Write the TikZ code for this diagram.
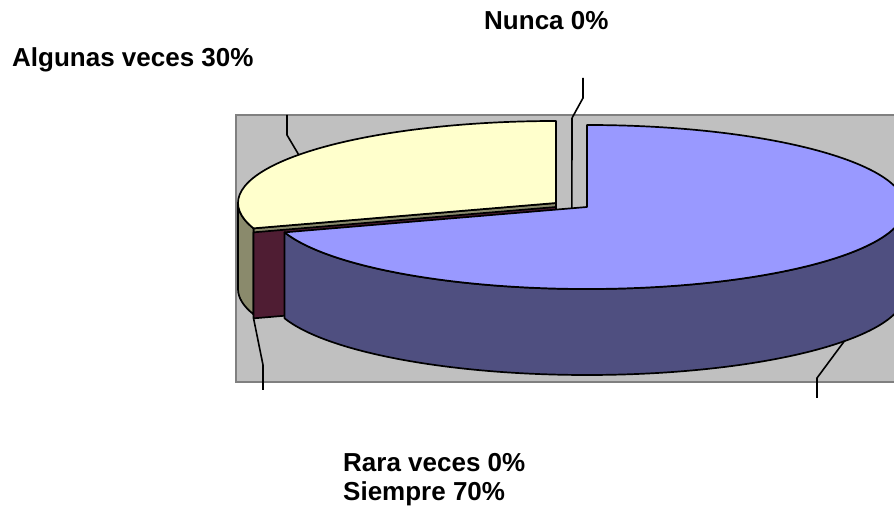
\documentclass[tikz,border=0pt]{standalone}
\usepackage{fontspec}
\setmainfont{Liberation Sans}
\usetikzlibrary{calc}
\tikzset{
	slice/.style={draw=black, line width=1.7pt, line join=round},
	leader/.style={draw=black, line width=1.6pt},
	pct/.style={font=\fontsize{26}{30}\selectfont\bfseries, inner sep=0pt, anchor=base west},
	plotarea/.style={fill=plotgray, draw=plotedge, line width=2pt},
}
\definecolor{plotgray}{HTML}{C0C0C0}
\definecolor{plotedge}{HTML}{808080}
\definecolor{siempre}{HTML}{9999FF}
\definecolor{siempreside}{HTML}{4F4F80}
\definecolor{algunas}{HTML}{FFFFCC}
\definecolor{algunasside}{HTML}{8A8A6C}
\definecolor{rara}{HTML}{4F1D33}

\begin{document}
\begin{tikzpicture}[x=1pt, y=1pt]
        \useasboundingbox (0,0) rectangle (894,514);
        \clip (0,0) rectangle (894,514);
        \path[plotarea] (236,132) rectangle (910,399);
        % centres and rims of the slices
        \coordinate (blue) at (587,307);
        \coordinate (yel) at (556,311);
        \coordinate (rr) at (556,307);
        \coordinate (blue rim) at ($(blue)+(198:318 and 82)$);
        \coordinate (yel rim) at ($(yel)+(198:318 and 82)$);
        \coordinate (rr rim) at ($(rr)+(198:318 and 82)$);
        \coordinate (nunca top) at (572,396);
        % Algunas veces
        \path[slice, fill=algunasside] (yel) -- (yel rim) -- ++(0,-86) -- ($(yel)+(0,-86)$) -- cycle;
        \path[slice, fill=algunasside] ($(yel)+(180:318 and 82)$)
            arc[start angle=180, end angle=198, x radius=318, y radius=82] -- ++(0,-86)
            arc[start angle=198, end angle=180, x radius=318, y radius=82] -- cycle;
        % Rara veces
        \path[slice, fill=rara] (rr) -- (rr rim) -- ++(0,-86) coordinate (rr low) -- ($(rr)+(0,-86)$) -- cycle;
        \path[slice, fill=algunas] (yel) -- ++(0,82) coordinate (yel top)
            arc[start angle=90, end angle=198, x radius=318, y radius=82] -- cycle;
        % Nunca
        \draw[leader] (nunca top) -- ($(blue)!0.05!(blue rim)$);
        % Siempre
        \path[slice, fill=siempreside] (blue rim)
            arc[start angle=198, end angle=360, x radius=318, y radius=82] -- ++(0,-86)
            arc[start angle=360, end angle=198, x radius=318, y radius=82] -- cycle;
        \path[slice, fill=siempre] (blue) -- ++(0,82)
            arc[start angle=90, end angle=-162, x radius=318, y radius=82] -- cycle;
        % leaders
        \coordinate (alg foot) at ($(yel)+(144:318 and 82)$);
        \coordinate (sie foot) at ($(blue)+(324:318 and 82)+(0,-86)$);
        \draw[leader] (alg foot) -- (287,379) -- (287,399);
        \draw[leader] (nunca top) -- (583,416) -- (583,436);
        \draw[leader] (rr low) -- (263,149) -- (263,124);
        \draw[leader] (sie foot) -- (817,136) -- (817,116);
        % labels
        \node[pct] (nunca) at (484,484) {Nunca 0\%};
        \node[pct] (algunas) at (12,447) {Algunas veces 30\%};
        \node[pct] (raravez) at (343,42) {Rara veces 0\%};
        \node[pct] (siempre) at (343,13) {Siempre 70\%};
\end{tikzpicture}
\end{document}
